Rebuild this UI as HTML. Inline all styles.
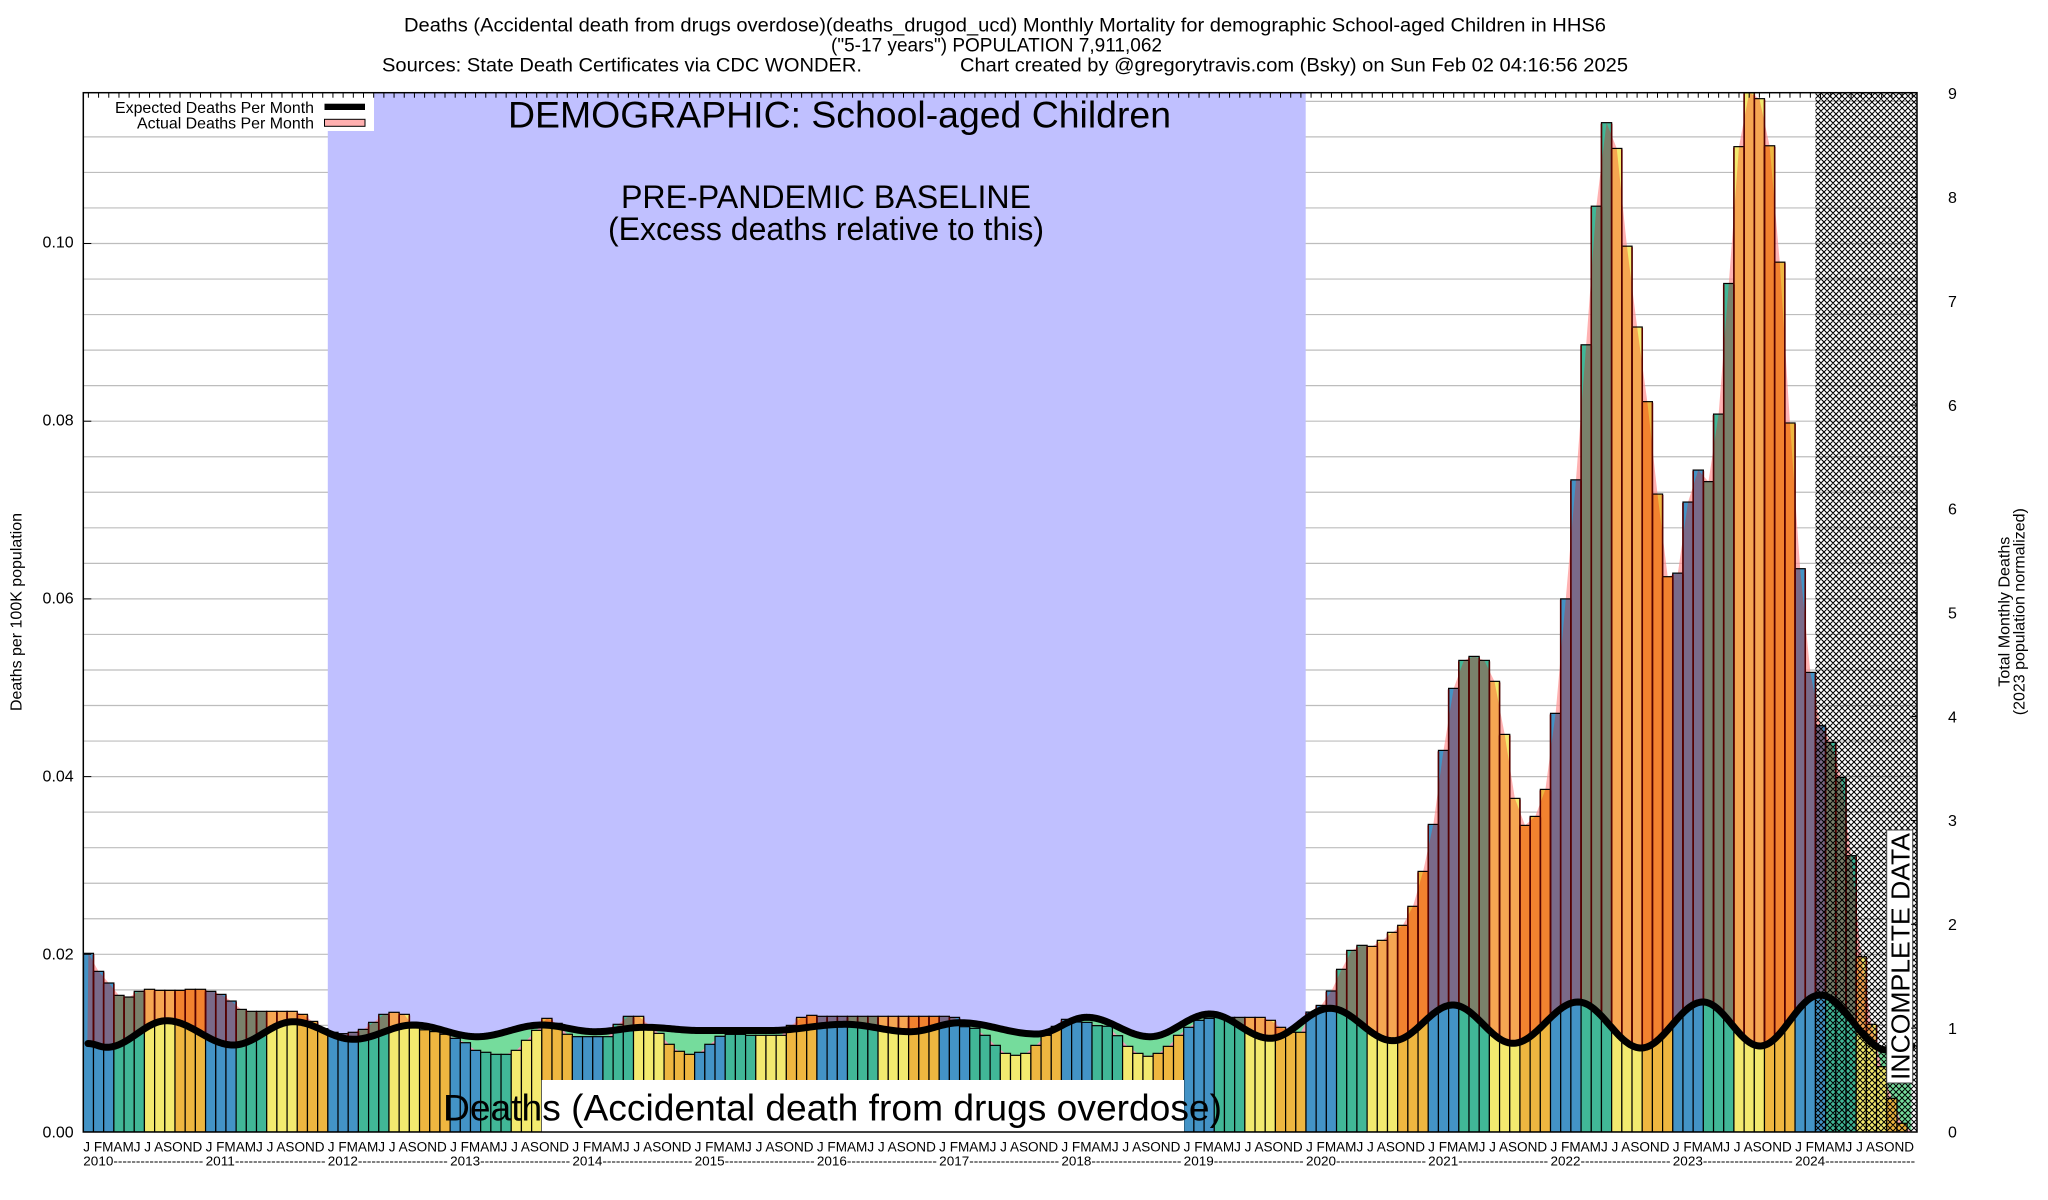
<!DOCTYPE html>
<html><head><meta charset="utf-8"><style>html,body{margin:0;padding:0;background:#fff}svg{display:block}</style></head>
<body>
<svg xmlns="http://www.w3.org/2000/svg" width="2048" height="1200" viewBox="0 0 2048 1200">
<defs>
<clipPath id="pc"><rect x="83.3" y="92.7" width="1833.7" height="1039.3"/></clipPath>
<pattern id="hatch" width="6" height="6" patternUnits="userSpaceOnUse">
<path d="M-1,-1 L7,7 M5,-1 L7,1 M-1,5 L1,7 M-1,7 L7,-1 M-1,1 L1,-1 M5,7 L7,5" stroke="#000" stroke-width="1.05" fill="none"/>
</pattern>
</defs>
<rect width="2048" height="1200" fill="#fff"/>
<g id="grid"></g>
<rect x="327.8" y="92.7" width="977.9" height="1039.3" fill="#c0c0ff"/>
<g clip-path="url(#pc)">
<g id="pink"></g><g id="green"></g><g id="bars"></g><g id="maroon"></g><g id="curve"></g>
</g>
<g font-family="'Liberation Sans', Arial, sans-serif" fill="#000">
<text x="404" y="31.7" font-size="19" textLength="1202" lengthAdjust="spacingAndGlyphs">Deaths (Accidental death from drugs overdose)(deaths_drugod_ucd) Monthly Mortality for demographic School-aged Children in HHS6</text>
<text x="831" y="51.6" font-size="19" textLength="331" lengthAdjust="spacingAndGlyphs">(&quot;5-17 years&quot;) POPULATION 7,911,062</text>
<text x="382" y="71.5" font-size="19" textLength="480" lengthAdjust="spacingAndGlyphs">Sources: State Death Certificates via CDC WONDER.</text>
<text x="960" y="71.5" font-size="19" textLength="668" lengthAdjust="spacingAndGlyphs">Chart created by @gregorytravis.com (Bsky) on Sun Feb 02 04:16:56 2025</text>

<text x="508" y="127.5" font-size="37.4" textLength="663" lengthAdjust="spacingAndGlyphs">DEMOGRAPHIC: School-aged Children</text>
<text x="826" y="208" font-size="32" text-anchor="middle" textLength="410" lengthAdjust="spacingAndGlyphs">PRE-PANDEMIC BASELINE</text>
<text x="826" y="240" font-size="32" text-anchor="middle" textLength="436" lengthAdjust="spacingAndGlyphs">(Excess deaths relative to this)</text>

<rect x="541.7" y="1080" width="642.3" height="52" fill="#fff"/>
<text x="443" y="1120.7" font-size="37.2" textLength="779" lengthAdjust="spacingAndGlyphs">Deaths (Accidental death from drugs overdose)</text>

<rect x="1815.4" y="92.7" width="101.6" height="1039.3" fill="url(#hatch)"/>
<rect x="1886.7" y="830" width="26" height="253" fill="#fff" stroke="#444" stroke-width="1"/>
<text transform="translate(1909.5,956.5) rotate(-90)" text-anchor="middle" font-size="26" textLength="247" lengthAdjust="spacingAndGlyphs">INCOMPLETE DATA</text>

<rect x="83.3" y="92.7" width="290.7" height="38.3" fill="#fff"/>
<text x="314" y="113" font-size="16" text-anchor="end" textLength="199" lengthAdjust="spacingAndGlyphs">Expected Deaths Per Month</text>
<text x="314" y="128.5" font-size="16" text-anchor="end" textLength="177" lengthAdjust="spacingAndGlyphs">Actual Deaths Per Month</text>
<rect x="324.5" y="103.7" width="40.5" height="6.3" fill="#000"/>
<rect x="324.5" y="119.3" width="40.5" height="7" fill="#ffb0b0" stroke="#000" stroke-width="1"/>

<rect x="83.3" y="92.7" width="1833.7" height="1039.3" fill="none" stroke="#000" stroke-width="1.5"/>
<g id="ticks"></g>

<g font-size="16" text-anchor="end">
<text x="73.7" y="1137.7">0.00</text>
<text x="73.7" y="959.7">0.02</text>
<text x="73.7" y="781.6">0.04</text>
<text x="73.7" y="603.6">0.06</text>
<text x="73.7" y="425.5">0.08</text>
<text x="73.7" y="247.5">0.10</text>
</g>
<g font-size="16">
<text x="1948" y="1137.7">0</text>
<text x="1948" y="1033.9">1</text>
<text x="1948" y="930">2</text>
<text x="1948" y="826.1">3</text>
<text x="1948" y="722.3">4</text>
<text x="1948" y="618.4">5</text>
<text x="1948" y="514.6">6</text>
<text x="1948" y="410.8">6</text>
<text x="1948" y="306.9">7</text>
<text x="1948" y="203.1">8</text>
<text x="1948" y="99.2">9</text>
</g>
<text transform="translate(21.5,612) rotate(-90)" text-anchor="middle" font-size="16" textLength="198" lengthAdjust="spacingAndGlyphs">Deaths per 100K population</text>
<text transform="translate(2009.5,611.7) rotate(-90)" text-anchor="middle" font-size="16" textLength="150" lengthAdjust="spacingAndGlyphs">Total Monthly Deaths</text>
<text transform="translate(2024.5,611.7) rotate(-90)" text-anchor="middle" font-size="16" textLength="207" lengthAdjust="spacingAndGlyphs">(2023 population normalized)</text>

<g font-size="13.5">
<text x="83.3" y="1151.7" textLength="119" lengthAdjust="spacingAndGlyphs">J FMAMJ J ASOND</text>
<text x="205.6" y="1151.7" textLength="119" lengthAdjust="spacingAndGlyphs">J FMAMJ J ASOND</text>
<text x="327.8" y="1151.7" textLength="119" lengthAdjust="spacingAndGlyphs">J FMAMJ J ASOND</text>
<text x="450.1" y="1151.7" textLength="119" lengthAdjust="spacingAndGlyphs">J FMAMJ J ASOND</text>
<text x="572.4" y="1151.7" textLength="119" lengthAdjust="spacingAndGlyphs">J FMAMJ J ASOND</text>
<text x="694.6" y="1151.7" textLength="119" lengthAdjust="spacingAndGlyphs">J FMAMJ J ASOND</text>
<text x="816.9" y="1151.7" textLength="119" lengthAdjust="spacingAndGlyphs">J FMAMJ J ASOND</text>
<text x="939.2" y="1151.7" textLength="119" lengthAdjust="spacingAndGlyphs">J FMAMJ J ASOND</text>
<text x="1061.4" y="1151.7" textLength="119" lengthAdjust="spacingAndGlyphs">J FMAMJ J ASOND</text>
<text x="1183.7" y="1151.7" textLength="119" lengthAdjust="spacingAndGlyphs">J FMAMJ J ASOND</text>
<text x="1306.0" y="1151.7" textLength="119" lengthAdjust="spacingAndGlyphs">J FMAMJ J ASOND</text>
<text x="1428.2" y="1151.7" textLength="119" lengthAdjust="spacingAndGlyphs">J FMAMJ J ASOND</text>
<text x="1550.5" y="1151.7" textLength="119" lengthAdjust="spacingAndGlyphs">J FMAMJ J ASOND</text>
<text x="1672.8" y="1151.7" textLength="119" lengthAdjust="spacingAndGlyphs">J FMAMJ J ASOND</text>
<text x="1795.1" y="1151.7" textLength="119" lengthAdjust="spacingAndGlyphs">J FMAMJ J ASOND</text>
</g>
<g font-size="13.2">
<text x="83.3" y="1165.3" textLength="120" lengthAdjust="spacingAndGlyphs">2010--------------------</text>
<text x="205.6" y="1165.3" textLength="120" lengthAdjust="spacingAndGlyphs">2011--------------------</text>
<text x="327.8" y="1165.3" textLength="120" lengthAdjust="spacingAndGlyphs">2012--------------------</text>
<text x="450.1" y="1165.3" textLength="120" lengthAdjust="spacingAndGlyphs">2013--------------------</text>
<text x="572.4" y="1165.3" textLength="120" lengthAdjust="spacingAndGlyphs">2014--------------------</text>
<text x="694.6" y="1165.3" textLength="120" lengthAdjust="spacingAndGlyphs">2015--------------------</text>
<text x="816.9" y="1165.3" textLength="120" lengthAdjust="spacingAndGlyphs">2016--------------------</text>
<text x="939.2" y="1165.3" textLength="120" lengthAdjust="spacingAndGlyphs">2017--------------------</text>
<text x="1061.4" y="1165.3" textLength="120" lengthAdjust="spacingAndGlyphs">2018--------------------</text>
<text x="1183.7" y="1165.3" textLength="120" lengthAdjust="spacingAndGlyphs">2019--------------------</text>
<text x="1306.0" y="1165.3" textLength="120" lengthAdjust="spacingAndGlyphs">2020--------------------</text>
<text x="1428.2" y="1165.3" textLength="120" lengthAdjust="spacingAndGlyphs">2021--------------------</text>
<text x="1550.5" y="1165.3" textLength="120" lengthAdjust="spacingAndGlyphs">2022--------------------</text>
<text x="1672.8" y="1165.3" textLength="120" lengthAdjust="spacingAndGlyphs">2023--------------------</text>
<text x="1795.1" y="1165.3" textLength="120" lengthAdjust="spacingAndGlyphs">2024--------------------</text>
</g>
</g>
</svg>
<script>
(function(){
var NS='http://www.w3.org/2000/svg';
var L=83.3,P=10.189,Y0=1132,K=8885,TOP=92.7,R=1917;
var D=[
0.02011,0.01808,0.01677,0.01538,0.01519,0.01583,0.01606,0.01594,0.01594,0.01594,0.01606,0.01606,
0.01583,0.01549,0.01474,0.01380,0.01358,0.01358,0.01358,0.01358,0.01358,0.01324,0.01245,0.01163,
0.01122,0.01107,0.01122,0.01155,0.01234,0.01324,0.01347,0.01324,0.0117,0.0115,0.0113,0.0110,
0.01054,0.01005,0.00919,0.00897,0.00874,0.00874,0.00919,0.01032,0.01144,0.01279,0.01223,0.0110,
0.01073,0.01073,0.01073,0.01073,0.01212,0.01302,0.01302,0.01208,0.0111,0.00987,0.00908,0.00874,
0.00897,0.00987,0.01077,0.01099,0.01099,0.01088,0.01088,0.01088,0.01088,0.0120,0.0129,0.01313,
0.01302,0.01302,0.01302,0.01302,0.01302,0.01302,0.01302,0.01302,0.01302,0.01302,0.01302,0.01302,
0.01302,0.0129,0.01185,0.01167,0.01088,0.00975,0.00885,0.00863,0.00885,0.00975,0.01088,0.01189,
0.01268,0.01238,0.01234,0.01197,0.0119,0.01084,0.00964,0.00885,0.00852,0.00885,0.00964,0.01088,
0.01178,0.01257,0.01279,0.0129,0.0129,0.0129,0.0129,0.0129,0.01257,0.01178,0.01122,0.01122,
0.0135,0.01425,0.01587,0.01831,0.02044,0.02101,0.02089,0.02157,0.02247,0.02326,0.0254,0.02933,
0.03462,0.04295,0.04993,0.05308,0.05353,0.05308,0.05072,0.04475,0.03755,0.03451,0.03552,0.03856,
0.04712,0.0600,0.0734,0.0886,0.1042,0.1136,0.1107,0.0997,0.0906,0.0822,0.0718,0.0625,
0.0629,0.0709,0.0745,0.0732,0.0808,0.0955,0.1109,0.1170,0.1163,0.1110,0.0979,0.0798,
0.0634,0.05173,0.04573,0.04385,0.03991,0.0311,0.01973,0.01212,0.00735,0.00379,0.00098,0
];
var CP=[[88,1043.5],[106.7,1047.3],[166.7,1020.7],[233.3,1045],[293.3,1021.7],[353.3,1039.3],[413.3,1025],[476.7,1036.7],[541.7,1025],[595,1031.7],[645,1027.3],[700,1030.5],[770,1030.5],[845,1024.3],[910,1031.7],[960,1022.7],[1036.7,1034],[1086.7,1017.3],[1150,1036.7],[1210,1014],[1270,1038.3],[1330,1008.3],[1393,1040.7],[1453,1005],[1513,1043.3],[1578,1002],[1641,1048],[1703,1002],[1760,1046],[1820,995],[1887,1050],[1912,1046]];
function ey(x){
  if(x<=CP[0][0]) return CP[0][1];
  for(var k=0;k<CP.length-1;k++){var a=CP[k],b=CP[k+1];
    if(x<=b[0]){var t=(x-a[0])/(b[0]-a[0]);var s=(1-Math.cos(Math.PI*t))/2;return a[1]+(b[1]-a[1])*s;}}
  return CP[CP.length-1][1];
}
function yv(v){return Y0-Math.min(v,0.11697)*K;}
var ys=D.map(yv);
function cx(i){return L+P*(i+0.5);}
function py(x){var f=(x-L)/P-0.5;if(f<=0)return ys[0];if(f>=179)return ys[179];var i=Math.floor(f),t=f-i;return ys[i]+(ys[i+1]-ys[i])*t;}
function el(tag,attrs,parent){var e=document.createElementNS(NS,tag);for(var k in attrs)e.setAttribute(k,attrs[k]);parent.appendChild(e);return e;}
function f(n){return n.toFixed(2);}
function ptsStr(p){return p.map(function(q){return f(q[0])+','+f(q[1]);}).join(' ');}
var g=document.getElementById('grid');
for(var k=1;k<=29;k++){var y=Y0-0.004*k*K;el('line',{x1:L,x2:R,y1:f(y),y2:f(y),stroke:'#bdbdbd','stroke-width':1.2},g);}
var pts=[[cx(0),Y0]];for(var i=0;i<180;i++)pts.push([cx(i),ys[i]]);pts.push([cx(179),Y0]);
el('polygon',{points:ptsStr(pts),fill:'rgba(255,145,145,0.7)'},document.getElementById('pink'));
var up=[],lo=[];for(var x=cx(0);x<=cx(179)+0.01;x+=1){var e=ey(x);up.push([x,e]);lo.push([x,Math.max(py(x),e)]);}
el('polygon',{points:ptsStr(up.concat(lo.reverse())),fill:'#75dc9c'},document.getElementById('green'));
var BASE=['#4393c6','#41b797','#f3ea6f','#eeb640'],EXC=['#7a6a89','#7a816b','#f6a652','#f2822f'];
var bg=document.getElementById('bars'),mg=document.getElementById('maroon');
for(var i=0;i<180;i++){
  if(D[i]<=0)continue;
  var q=Math.floor((i%12)/3),x0=L+P*i,x1=x0+P,yt=ys[i];
  el('rect',{x:f(x0),y:f(yt),width:f(P),height:f(Y0-yt),fill:BASE[q]},bg);
  var U=[],B=[],any=false;
  for(var j=0;j<=10;j++){var xx=x0+P*j/10;var ee=ey(xx);var u;
    if(xx<cx(0)||xx>cx(179)) u=ee; else u=Math.min(Math.max(yt,py(xx)),ee);
    if(u<ee-0.01)any=true;U.push([xx,u]);B.push([xx,ee]);}
  if(any)el('polygon',{points:ptsStr(U.concat(B.reverse())),fill:EXC[q]},bg);
  el('rect',{x:f(x0),y:f(yt),width:f(P),height:f(Y0-yt),fill:'none',stroke:'#000','stroke-width':1.2},bg);
  var ec=ey(cx(i));
  if(yt<ec-2){
    el('line',{x1:f(x0),x2:f(x0),y1:f(yt+1),y2:f(ey(x0)),stroke:'#550000','stroke-width':1.6},mg);
    el('line',{x1:f(x1),x2:f(x1),y1:f(yt+1),y2:f(ey(x1)),stroke:'#550000','stroke-width':1.6},mg);
  }
}
var d='';for(var x=88;x<=1912;x+=2){d+=(d?'L':'M')+f(x)+','+f(ey(x));}
el('path',{d:d,fill:'none',stroke:'#000','stroke-width':7,'stroke-linejoin':'round','stroke-linecap':'round'},document.getElementById('curve'));
var tg=document.getElementById('ticks');
for(var i=0;i<180;i++){el('line',{x1:f(cx(i)),x2:f(cx(i)),y1:TOP,y2:TOP+5,stroke:'#000','stroke-width':1},tg);}
for(var n=1;n<=9;n++){var y=Y0-n*103.85;el('line',{x1:R-6,x2:R,y1:f(y),y2:f(y),stroke:'#000','stroke-width':1},tg);}
for(var n=1;n<=5;n++){var y=Y0-0.02*n*K;el('line',{x1:L,x2:L+8,y1:f(y),y2:f(y),stroke:'#000','stroke-width':1},tg);}
})();
</script>
</body></html>
